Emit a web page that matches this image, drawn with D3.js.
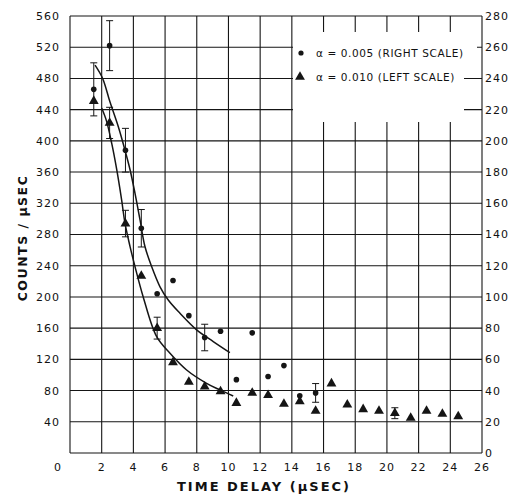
<!DOCTYPE html>
<html><head><meta charset="utf-8">
<script src="https://cdn.jsdelivr.net/npm/d3@7"></script>
<style>
html,body{margin:0;padding:0;background:#fff;}
svg{display:block;}
text{font-family:"DejaVu Sans",sans-serif;fill:#111;}
</style></head>
<body>
<script>
// ---- data ----
const xTicks = [0,2,4,6,8,10,12,14,16,18,20,22,24,26];
const leftTicks = [40,80,120,160,200,240,280,320,360,400,440,480,520,560];
const rightTicks = [0,20,40,60,80,100,120,140,160,180,200,220,240,260,280];

// alpha = 0.005 (right scale), circles
const circleTime  = [1.5,2.5,3.5,4.5,5.5,6.5,7.5,8.5,9.5,10.5,11.5,12.5,13.5,14.5,15.5];
const circleValue = [233,261,194,144,102,110.5,88,74,78,47,77,49,56,36.7,38.5];
const circleErr   = [17,16,14,12,0,0,0,8.5,0,0,0,0,0,0,6];

// alpha = 0.010 (left scale), triangles
const triTime  = [1.5,2.5,3.5,4.5,5.5,6.5,7.5,8.5,9.5,10.5,11.5,12.5,13.5,14.5,15.5,16.5,17.5,18.5,19.5,20.5,21.5,22.5,23.5,24.5];
const triValue = [451,423,294,227,160,116,91,85,79,64,77,74,63,66,54,89,62,56,54,51,45,54,50,47];
const triErr   = [0,20,17,0,14,0,0,0,0,0,0,0,0,0,0,0,0,0,0,7,0,0,0,0];

// fitted curves
const upperCurveTime  = [1.58,2.06,2.52,3.05,3.47,3.79,4.10,4.42,4.73,5.15,5.68,6.2,6.94,7.99,9.04,10.09];
const upperCurveValue = [248.5,240,225,209,194,181.5,166.5,149.3,132.3,119.5,106.5,98,89.5,78.9,71.4,64.3]; // right scale
const lowerCurveTime  = [2.0,2.31,2.63,2.95,3.26,3.47,3.79,4.10,4.62,5.47,6.31,7.36,8.62,9.46,10.30];
const lowerCurveValue = [442,425,397,363,324,294.5,264.5,239,200,149,127.8,106.4,89.3,80.8,73]; // left scale

const legendLabels = ["α = 0.005 (RIGHT SCALE)", "α = 0.010  (LEFT SCALE)"];

// ---- chart ----
const W = 512, H = 495;
const svg = d3.select("body").append("svg").attr("width", W).attr("height", H);
const x = d3.scaleLinear().domain([0,26]).range([70,482]);
const yL = d3.scaleLinear().domain([0,560]).range([453,16]);
const yR = d3.scaleLinear().domain([0,280]).range([453,16]);
const ink = "#151515";

// grid
const grid = svg.append("g");
grid.selectAll("line.v").data(xTicks).join("line")
  .attr("x1", d=>x(d)).attr("x2", d=>x(d)).attr("y1", yL(0)).attr("y2", yL(560))
  .attr("stroke", ink).attr("stroke-width", 1.1);
grid.selectAll("line.h").data([0].concat(leftTicks)).join("line")
  .attr("x1", x(0)).attr("x2", x(26)).attr("y1", d=>yL(d)).attr("y2", d=>yL(d))
  .attr("stroke", ink).attr("stroke-width", 1.1);

// legend white box
svg.append("rect").attr("x", 293).attr("y", 32).attr("width", 171).attr("height", 90).attr("fill", "#fff");
svg.append("rect").attr("x", 463).attr("y", 42).attr("width", 14).attr("height", 20).attr("fill", "#fff");

// axes labels
const fs = 11;
svg.append("g").selectAll("text").data(leftTicks).join("text")
  .attr("x", 60).attr("y", d=>yL(d)).attr("dy", "0.36em").attr("text-anchor", "end")
  .attr("font-size", fs).attr("letter-spacing", 1).text(d=>d);
svg.append("g").selectAll("text").data(rightTicks).join("text")
  .attr("x", 485).attr("y", d=>yR(d)).attr("dy", "0.36em").attr("text-anchor", "start")
  .attr("font-size", fs).attr("letter-spacing", 1).text(d=>d);
svg.append("g").selectAll("text").data(xTicks).join("text")
  .attr("x", d=> d===0 ? x(d)-12 : x(d)).attr("y", 467).attr("dy", "0.36em").attr("text-anchor", "middle")
  .attr("font-size", fs).attr("letter-spacing", 1).text(d=>d);

svg.append("text").attr("x", 264).attr("y", 486).attr("dy","0.36em").attr("text-anchor","middle")
  .attr("font-size", 13).attr("font-weight","bold").attr("letter-spacing", 2).text("TIME DELAY (μSEC)");
svg.append("text").attr("transform","translate(22,238) rotate(-90)").attr("dy","0.36em").attr("text-anchor","middle")
  .attr("font-size", 12.5).attr("font-weight","bold").attr("letter-spacing", 1.5).text("COUNTS / μSEC");

// curves
const lineU = d3.line().x((d,i)=>x(upperCurveTime[i])).y(d=>yR(d)).curve(d3.curveCatmullRom.alpha(0.5));
const lineL = d3.line().x((d,i)=>x(lowerCurveTime[i])).y(d=>yL(d)).curve(d3.curveCatmullRom.alpha(0.5));
svg.append("path").attr("d", lineU(upperCurveValue)).attr("fill","none").attr("stroke",ink).attr("stroke-width",1.5);
svg.append("path").attr("d", lineL(lowerCurveValue)).attr("fill","none").attr("stroke",ink).attr("stroke-width",1.5);

// error bars
function errBars(times, vals, errs, scale){
  const g = svg.append("g").attr("stroke", ink).attr("stroke-width", 1);
  times.forEach((t,i)=>{
    const e = errs[i]; if(!e) return;
    const cx = x(t), y1 = scale(vals[i]+e), y2 = scale(vals[i]-e);
    g.append("line").attr("x1",cx).attr("x2",cx).attr("y1",y1).attr("y2",y2);
    g.append("line").attr("x1",cx-3.5).attr("x2",cx+3.5).attr("y1",y1).attr("y2",y1);
    g.append("line").attr("x1",cx-3.5).attr("x2",cx+3.5).attr("y1",y2).attr("y2",y2);
  });
}
errBars(circleTime, circleValue, circleErr, yR);
errBars(triTime, triValue, triErr, yL);

// markers
svg.append("g").selectAll("circle").data(circleValue).join("circle")
  .attr("cx",(d,i)=>x(circleTime[i])).attr("cy",d=>yR(d)).attr("r",2.8).attr("fill",ink);
const tri = d3.symbol().type(d3.symbolTriangle).size(42);
svg.append("g").selectAll("path").data(triValue).join("path")
  .attr("d", tri).attr("transform",(d,i)=>`translate(${x(triTime[i])},${yL(d)})`).attr("fill",ink);

// legend
svg.append("circle").attr("cx",301).attr("cy",53).attr("r",2.6).attr("fill",ink);
svg.append("path").attr("d", tri).attr("transform","translate(300,77)").attr("fill",ink);
svg.selectAll("text.leg").data(legendLabels).join("text").attr("class","leg")
  .attr("x",316).attr("y",(d,i)=>53+i*24).attr("dy","0.36em")
  .attr("font-size",10.5).attr("letter-spacing",0.6).text(d=>d);
</script>
</body></html>
